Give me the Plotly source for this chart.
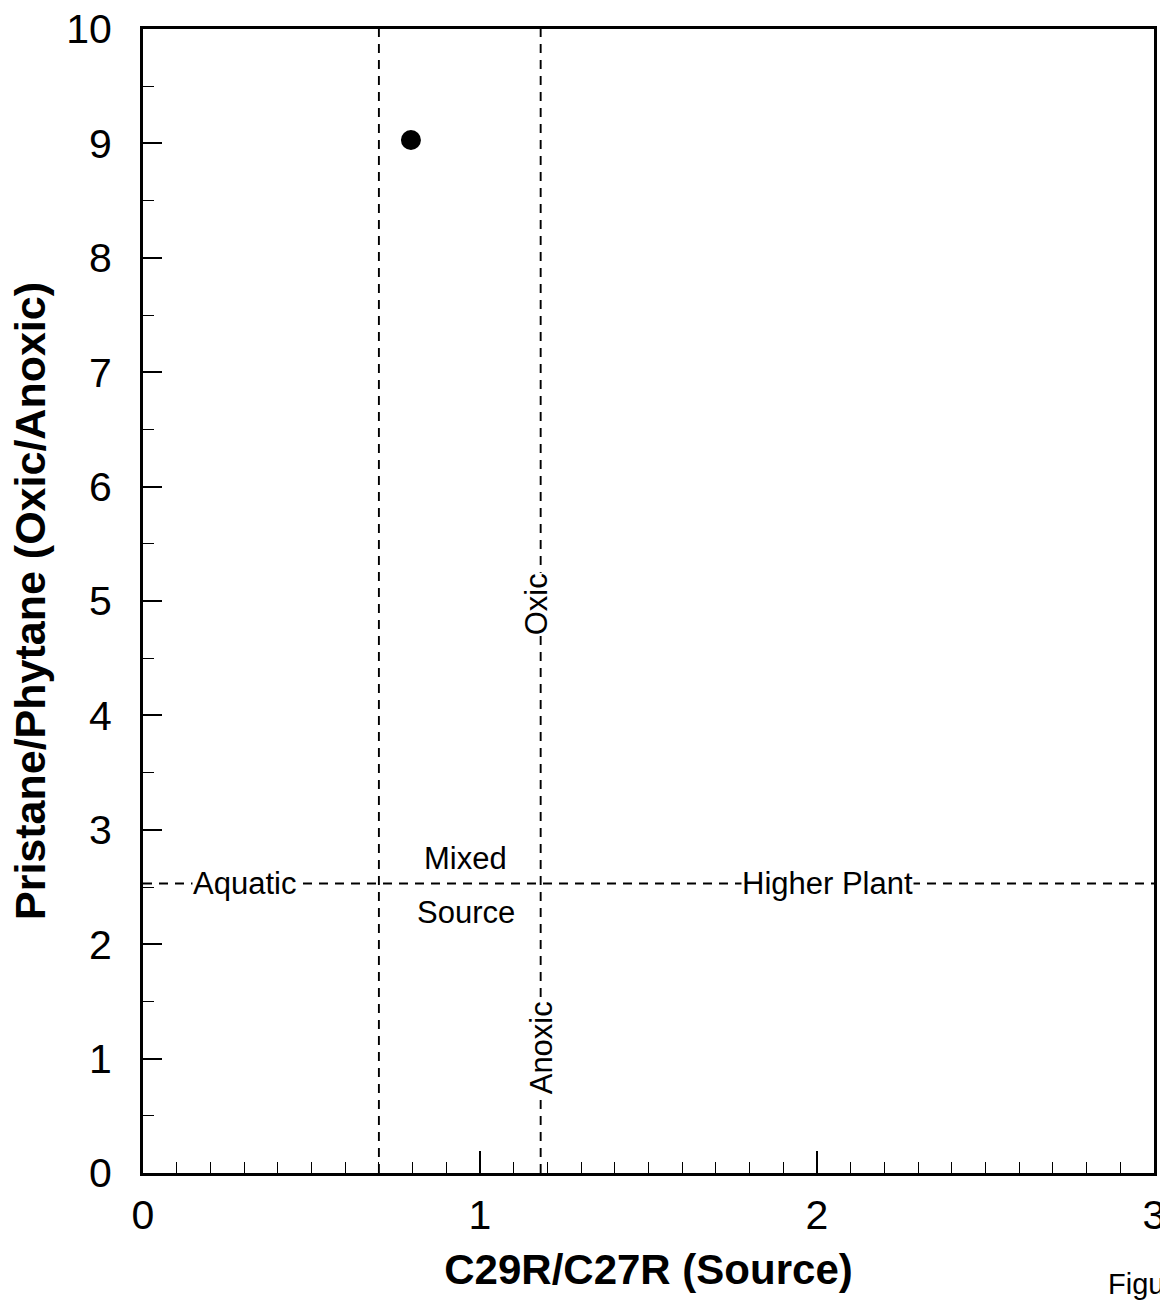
import plotly.graph_objects as go

# Data
sample_x = [0.795]
sample_y = [9.03]

vline_x = [0.7, 1.18]          # C29R/C27R source boundaries
hline_y = 2.53                 # Pr/Ph oxic/anoxic boundary
x_range = [0, 3]
y_range = [0, 10]

label_text = ["Aquatic", "Higher Plant", "Mixed", "Source"]
label_x = [0.30, 2.03, 0.958, 0.958]
label_y = [2.53, 2.53, 2.75, 2.28]

vlabel_text = ["Oxic", "Anoxic"]
vlabel_x = [1.166, 1.181]
vlabel_y = [4.97, 1.09]

x_title = "C29R/C27R (Source)"
y_title = "Pristane/Phytane (Oxic/Anoxic)"

FONT = "Liberation Sans, Arial, sans-serif"
DASH = "9px,7px"

fig = go.Figure()

for vx in vline_x:
    fig.add_trace(go.Scatter(x=[vx, vx], y=y_range, mode="lines",
                             line=dict(color="black", width=1.9, dash=DASH),
                             showlegend=False, hoverinfo="skip"))
fig.add_trace(go.Scatter(x=x_range, y=[hline_y, hline_y], mode="lines",
                         line=dict(color="black", width=1.9, dash=DASH),
                         showlegend=False, hoverinfo="skip"))

fig.add_trace(go.Scatter(x=sample_x, y=sample_y, mode="markers",
                         marker=dict(size=20, color="black", symbol="circle"),
                         showlegend=False))

for t, x, y in zip(label_text, label_x, label_y):
    fig.add_annotation(x=x, y=y, text=t, showarrow=False,
                       font=dict(family=FONT, size=31, color="black"),
                       bgcolor="white" if t in ("Aquatic", "Higher Plant") else None,
                       borderpad=0)

for t, x, y in zip(vlabel_text, vlabel_x, vlabel_y):
    fig.add_annotation(x=x, y=y, text=t, showarrow=False, textangle=-90,
                       font=dict(family=FONT, size=31, color="black"),
                       bgcolor="white", borderpad=0)

fig.add_annotation(xref="paper", yref="paper", x=(1106 - 143) / 1011, y=-(1284 - 1173) / 1144,
                   xanchor="left", yanchor="middle", text="Figure", showarrow=False,
                   font=dict(family=FONT, size=29, color="black"))

fig.update_layout(
    width=1160, height=1300,
    margin=dict(l=143, r=6, t=29, b=127),
    paper_bgcolor="white", plot_bgcolor="white",
    font=dict(family=FONT, color="black"),
    showlegend=False,
)

fig.update_xaxes(
    range=x_range, tickvals=[0, 1, 2, 3], ticks="inside", ticklen=22, tickwidth=1.5,
    tickcolor="black",
    minor=dict(dtick=0.1, ticks="inside", ticklen=11, tickwidth=1.2, tickcolor="black", showgrid=False),
    showline=True, linecolor="black", linewidth=3, mirror=True,
    showgrid=False, zeroline=False, automargin=False, ticklabeloverflow="allow",
    tickfont=dict(family=FONT, size=41, color="black"),
    ticklabelstandoff=4,
    title=dict(text=f"<b>{x_title}</b>", font=dict(family=FONT, size=42, color="black"), standoff=18),
)
fig.update_yaxes(
    range=y_range, tickvals=list(range(0, 11)), ticks="inside", ticklen=19, tickwidth=1.5,
    tickcolor="black",
    minor=dict(dtick=0.5, ticks="inside", ticklen=11, tickwidth=1.2, tickcolor="black", showgrid=False),
    showline=True, linecolor="black", linewidth=3, mirror=True,
    showgrid=False, zeroline=False, automargin=False, ticklabeloverflow="allow",
    tickfont=dict(family=FONT, size=41, color="black"),
    ticklabelstandoff=20,
    title=dict(text=f"<b>{y_title}</b>", font=dict(family=FONT, size=43, color="black"), standoff=8),
)

fig.write_html("out.html", config={"displayModeBar": False},
               post_script="document.body.style.margin='0';document.body.style.overflow='hidden';")
